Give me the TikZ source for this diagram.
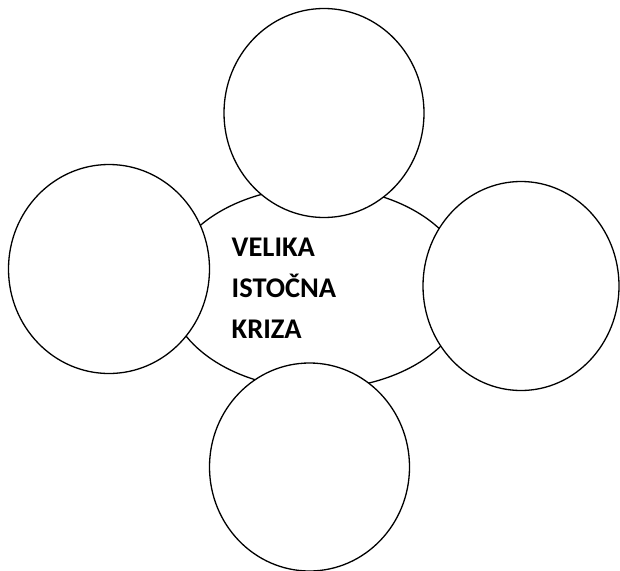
\documentclass[tikz,border=0pt]{standalone}
\usepackage{fontspec}
\newfontfamily\krizafont{Carlito}
\usepackage{tikz}
\usetikzlibrary{shapes.geometric}

\begin{document}
\begin{tikzpicture}[x=1pt, y=-1pt,
    bubble/.style={ellipse, draw=black, fill=white, line width=1.3pt, inner sep=0pt},
    title/.style={font=\krizafont\bfseries\fontsize{28.5}{41}\selectfont, align=left, inner sep=0pt}]
  \useasboundingbox (0,0) rectangle (620,570);
  % central oval
  \node[bubble, minimum width=300pt, minimum height=202pt] (kriza) at (318,288) {};
  % four empty bubbles round it
  \node[bubble, minimum width=200pt, minimum height=209pt] (gore) at (324,113) {};
  \node[bubble, minimum width=201pt, minimum height=209pt] (lijevo) at (109,269) {};
  \node[bubble, minimum width=196pt, minimum height=209pt] (desno) at (521,286) {};
  \node[bubble, minimum width=200pt, minimum height=208pt] (dolje) at (309.5,467) {};
  \node[title, anchor=north west] (naslov) at (231.5,238) {VELIKA\\ISTOČNA\\KRIZA};
\end{tikzpicture}
\end{document}
